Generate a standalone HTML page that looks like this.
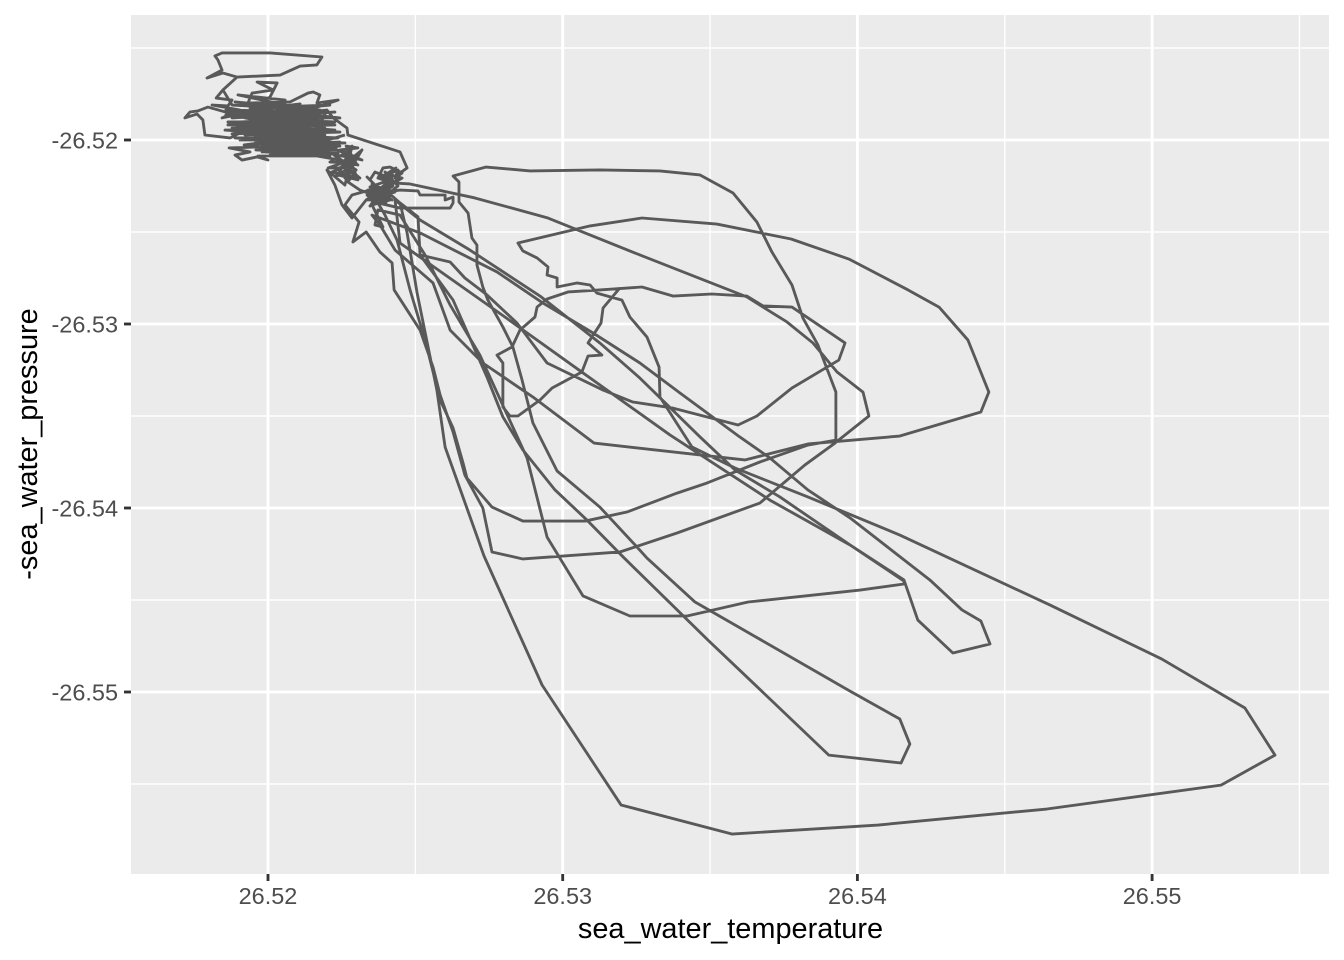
<!DOCTYPE html>
<html lang="en">
<head>
<meta charset="utf-8">
<title>sea_water_temperature vs -sea_water_pressure</title>
<style>
html,body{margin:0;padding:0;background:#fff;}
svg{display:block;font-family:"Liberation Sans",Arial,sans-serif;}
</style>
</head>
<body>
<svg id="chart" xmlns="http://www.w3.org/2000/svg" width="1344" height="960" viewBox="0 0 1344 960">
  <rect x="0" y="0" width="1344" height="960" fill="#ffffff"/>
  <rect x="131" y="15" width="1198" height="859" fill="#EBEBEB"/>
  <g id="grid-minor"></g>
  <g id="grid-major"></g>
  <path id="trace" fill="none" stroke="#595959" stroke-width="2.85" stroke-linejoin="round" stroke-linecap="butt"/>
  <g id="x-axis"></g>
  <g id="y-axis"></g>
  <text x="730.5" y="938" text-anchor="middle" font-size="28.9" fill="#000">sea_water_temperature</text>
  <text transform="translate(37,444) rotate(-90)" text-anchor="middle" font-size="28.9" fill="#000">-sea_water_pressure</text>
</svg>
<script>
const xTickValues = [26.52, 26.53, 26.54, 26.55];
const xTickLabels = ["26.52", "26.53", "26.54", "26.55"];
const xMinorValues = [26.525, 26.535, 26.545, 26.555];
const yTickValues = [-26.52, -26.53, -26.54, -26.55];
const yTickLabels = ["-26.52", "-26.53", "-26.54", "-26.55"];
const yMinorValues = [-26.515, -26.525, -26.535, -26.545, -26.555];

const temperature = [
26.53194,26.53137,26.5313,26.53086,26.53133,26.53086,26.53065,26.52964,26.52923,26.52848,26.52821,26.52797,26.52797,26.52777,26.52828,26.52855,26.52906,26.52913,26.52947,26.53018,26.53126,26.53269,26.53374,26.53506,26.53625,26.5368,26.53778,26.53958,26.53937,26.53778,26.53659,26.53595,26.53374,26.53238,26.53137,26.52947,26.52845,26.52743,26.52668,26.52618,26.52516,26.52509,26.52448,
26.52421,26.52346,26.52414,26.52339,26.52431,26.52353,26.52397,26.52336,26.52424,26.52373,26.5239,26.52414,26.52455,26.52431,26.52441,26.52397,26.52363,26.52346,26.52336,26.5238,26.52353,26.52407,26.52366,26.52312,
26.52271,26.52295,26.52227,26.52278,26.52204,26.52261,26.52305,26.52251,26.52319,26.52244,26.52305,26.52265,26.52285,
26.52234,26.51973,26.52227,26.5199,26.5221,26.51966,26.52,26.51963,26.51912,26.51888,26.51939,26.51868,26.51966,26.52041,26.5198,26.52244,26.52007,26.52261,26.51956,26.52143,
26.51919,26.52159,26.51905,26.51871,26.51786,26.51779,26.51759,26.51718,26.51735,26.51762,26.51796,26.51905,26.52109,26.51922,26.52227,26.51905,26.52176,26.51864,26.52143,26.51888,26.51956,26.522,26.52109,26.52238,26.52166,26.52176,26.52153,26.52136,26.52075,26.51932,26.51946,26.52017,26.51963,26.52031,26.52007,26.51939,26.52109,26.51915,26.52007,26.51844,26.51905,26.5181,26.51864,26.51878,26.51824,26.51847,26.51895,26.51847,26.51793,26.51844,26.5183,26.5182,26.51844,26.52007,26.52183,26.52166,26.52109,26.52041,26.51895,26.51847,
26.51878,26.52176,26.51857,26.52193,26.51905,26.52227,26.51878,26.5221,26.51922,26.52244,26.51939,26.52109,26.51905,26.52176,26.51956,26.52143,26.51973,26.52193,26.5199,26.52143,26.522,26.52221,26.52268,26.52271,26.52448,26.52472,26.52448,26.52431,
26.52482,26.52702,26.5295,26.53262,26.53625,26.53761,26.53849,26.53931,26.54019,26.54039,26.53924,26.53822,26.53669,26.53388,26.53194,26.52865,26.5276,26.52729,26.52668,26.52628,26.52584,26.5256,26.52516,26.52428,26.52421,26.5238,26.52333,26.52288,26.52309,26.52261,26.52285,
26.52346,26.52397,26.52448,26.52509,26.52516,26.52601,26.52601,26.52628,26.52628,26.52618,26.52448,26.52373,26.52397,26.52438,26.52482,26.52533,26.52584,
26.52628,26.52662,26.52675,26.5276,26.52865,26.53076,26.53218,26.53388,26.5349,26.53669,26.53832,26.53927,26.53927,26.53866,26.53815,26.53778,26.5371,26.53659,26.53578,26.53466,26.5333,26.53126,26.52889,26.5274,26.52628,26.52648,26.52648,26.52679,26.52692,26.52709,26.52709,26.52729,26.52746,26.52797,26.52831,26.52862,26.52899,26.52981,26.53126,26.53252,26.53286,26.53449,26.53975,26.54144,26.54178,26.54148,26.53903,26.53618,26.53493,26.53205,26.53082,26.52974,26.52865,26.52797,26.52743,26.52628,26.52516,26.52509,26.52448,
26.52472,26.52506,26.5255,26.52573,26.52601,26.52733,26.5293,26.53198,26.53574,26.5407,26.54643,26.55234,26.55417,26.55315,26.55033,26.54653,26.54144,26.53832,26.53585,26.53439,26.5333,26.53327,26.53286,26.53228,26.53201,26.53116,26.53093,26.53048,26.52981,26.52981,26.52947,26.5295,26.52913,26.52865,26.52848,26.53093,26.53269,26.53523,26.53775,26.53971,26.54172,26.54277,26.54375,26.54446,26.54419,26.54144,26.53832,26.53618,26.53106,26.52899,26.52729,26.52618,26.5256,26.52431,26.5238,26.52353,
26.52516,26.52777,26.52933,26.53103,26.53262,26.53398,26.53601,26.53703,26.53832,26.53975,26.54246,26.54355,26.54419,26.5445,26.54324,26.54205,26.54158,26.53975,26.53737,26.53585,26.53466,26.53262,26.53126,26.52923,26.52685,26.52516,26.52431,
26.52448,26.52804,26.53069,26.53364,26.53703,26.53975,26.54158,26.54158,26.54009,26.53629,26.53422,26.53228,26.53069,26.52947,26.52879,26.52804,26.52719,26.52618,26.52533,26.52448,26.52373,26.52363,26.5239,26.52353,26.52414,
26.52346,26.52424,26.52339,26.52421,26.52353,26.524,26.52339,26.52428,26.52363,26.52414,26.52346,26.52407,26.5238,26.52441,
26.52397,26.52421,26.5238,26.52434,26.52407,26.52455,
26.52333,26.52285,26.52251,26.52227,26.522,26.52261,26.52278,26.52217,26.52312,26.52238,26.52299,26.52224,26.52305,26.52244,26.52319,26.52261,26.52285,26.52238,26.52305,26.52268,26.5221,26.52299,
26.5198,26.52231,26.51959,26.52238,26.52007,26.5221,26.5198,26.52193,26.51888,26.5221,26.51854,26.52227,26.51864,26.52204,26.51878,26.52176,26.51857,26.52159,26.51888,26.52109,26.51898,26.52058,26.51878,26.52227,26.51939,26.52244,26.51939,26.5221,26.51973,26.52193,26.52024,26.52238,26.52,26.52244,26.52109,26.52261
];

const pressure = [
26.52804,26.52913,26.52995,26.53103,26.53169,26.53174,26.53261,26.53348,26.53413,26.535,26.535,26.53451,26.53212,26.53169,26.53125,26.53033,26.52962,26.52908,26.52864,26.52826,26.52815,26.52799,26.52848,26.52837,26.52848,26.52902,26.52908,26.53103,26.53196,26.53348,26.535,26.53549,26.53457,26.53424,26.53359,26.53212,26.52995,26.52842,26.5275,26.52663,26.52625,26.52418,26.52342,
26.52304,26.52255,26.52217,26.52326,26.52283,26.52245,26.52326,26.52299,26.52234,26.52207,26.52152,26.52147,26.52179,26.52207,26.52163,26.52196,26.52174,26.52217,26.52201,26.52272,26.52342,26.52261,26.52304,26.52272,
26.52228,26.52174,26.52196,26.52152,26.52152,26.5212,26.52136,26.52082,26.52109,26.52054,26.52043,26.52033,26.52087,
26.52054,26.52043,26.52076,26.52065,26.52087,26.52087,26.52109,26.52092,26.52109,26.52082,26.52065,26.52043,26.52038,26.52038,26.52065,26.52033,26.52033,26.52016,26.52016,26.52005,
26.52027,26.51978,26.51962,26.51989,26.51973,26.51891,26.51859,26.5188,26.51848,26.51842,26.51821,26.5187,26.51929,26.5188,26.51902,26.51957,26.51918,26.51918,26.5188,26.51935,26.51918,26.51837,26.51853,26.51783,26.51799,26.51755,26.51739,26.51745,26.51793,26.51799,26.51745,26.51728,26.51685,26.5169,26.51766,26.51837,26.51804,26.51848,26.51826,26.5188,26.51837,26.5181,26.51815,26.51783,26.51772,26.51728,26.51658,26.51636,26.51663,26.5162,26.51565,26.51543,26.51527,26.51527,26.51549,26.51592,26.51598,26.51647,26.51658,26.51728,
26.5181,26.51837,26.51864,26.5188,26.51902,26.51918,26.51935,26.51946,26.51973,26.51957,26.51935,26.51973,26.52,26.52,26.51978,26.51935,26.51891,26.51973,26.51946,26.52033,26.51837,26.5188,26.51935,26.51973,26.52065,26.52152,26.52179,26.52234,
26.52239,26.52315,26.52424,26.52625,26.52853,26.52989,26.53103,26.53261,26.5337,26.535,26.53647,26.53766,26.53973,26.54136,26.54239,26.54277,26.54239,26.54,26.53821,26.53587,26.53386,26.53234,26.53033,26.52815,26.52668,26.52609,26.525,26.52554,26.52446,26.52353,26.52299,
26.52272,26.52283,26.52272,26.52277,26.52299,26.52299,26.52326,26.5231,26.52342,26.5237,26.5237,26.52342,26.52408,26.52544,26.52815,26.53087,26.53413,
26.53565,26.53756,26.53837,26.53995,26.54071,26.54071,26.54022,26.53919,26.53864,26.5375,26.53658,26.53631,26.5337,26.53114,26.52967,26.52788,26.52609,26.52446,26.52288,26.5219,26.52168,26.52163,26.52168,26.52147,26.52196,26.52228,26.52337,26.52397,26.52533,26.52571,26.52679,26.52799,26.5287,26.53016,26.53125,26.53304,26.53538,26.53799,26.53995,26.54212,26.54272,26.54511,26.54995,26.55147,26.55283,26.55386,26.55343,26.54908,26.54718,26.54266,26.54065,26.53902,26.53685,26.53505,26.53288,26.5287,26.52625,26.52418,26.52342,
26.52505,26.52832,26.53179,26.53359,26.53669,26.54261,26.54962,26.55614,26.55772,26.55723,26.55636,26.55506,26.55343,26.55087,26.54821,26.54527,26.54147,26.5394,26.53783,26.53669,26.53397,26.53234,26.53071,26.52962,26.5287,26.52832,26.52788,26.52777,26.52799,26.5275,26.52734,26.5269,26.52641,26.52603,26.5256,26.52467,26.52424,26.52457,26.52538,26.52647,26.52815,26.52908,26.53087,26.5337,26.53478,26.53609,26.53652,26.53739,26.53647,26.53397,26.53212,26.53033,26.52777,26.52598,26.52462,26.52408,
26.52505,26.52717,26.52886,26.53049,26.53212,26.53375,26.53614,26.53728,26.53902,26.54054,26.54391,26.54554,26.54614,26.54739,26.54788,26.54609,26.54391,26.54201,26.5394,26.53794,26.53614,26.53294,26.53103,26.52848,26.52598,26.52435,26.52326,
26.5256,26.52962,26.53266,26.53603,26.53957,26.54201,26.54397,26.54413,26.54446,26.54511,26.54587,26.54587,26.54478,26.54158,26.53728,26.53467,26.53169,26.52897,26.52625,26.52408,26.5238,26.52462,26.52473,26.52353,26.52326,
26.52326,26.5225,26.52272,26.52326,26.52239,26.52342,26.52304,26.52283,26.52261,26.52293,26.52359,26.52228,26.52326,26.5225,
26.52174,26.52207,26.52207,26.52152,26.52185,26.52207,
26.52326,26.52424,26.52353,26.52245,26.52163,26.52245,26.52136,26.52174,26.52207,26.52109,26.52163,26.52082,26.52098,26.52152,26.52054,26.52207,26.52033,26.5219,26.52217,26.52065,26.5212,26.52125,
26.52033,26.52043,26.52054,26.52071,26.52082,26.52054,26.52011,26.52022,26.51989,26.51989,26.51946,26.51946,26.51902,26.51902,26.51967,26.51946,26.51837,26.51848,26.51793,26.51826,26.51755,26.51783,26.5188,26.51848,26.5187,26.5188,26.51826,26.5181,26.51848,26.51935,26.51973,26.51989,26.52022,26.52011,26.52043,26.51973
];

const SVG_NS = "http://www.w3.org/2000/svg";
const xDomain = [26.515351, 26.556003];
const xRange = [131, 1329];
const yDomain = [-26.559837, -26.513207];
const yRange = [873, 15];

function xScale(v) {
  return xRange[0] + (v - xDomain[0]) / (xDomain[1] - xDomain[0]) * (xRange[1] - xRange[0]);
}
function yScale(v) {
  return yRange[0] + (v - yDomain[0]) / (yDomain[1] - yDomain[0]) * (yRange[1] - yRange[0]);
}
function makeLine(x1, y1, x2, y2, stroke, width) {
  const el = document.createElementNS(SVG_NS, "line");
  el.setAttribute("x1", x1);
  el.setAttribute("y1", y1);
  el.setAttribute("x2", x2);
  el.setAttribute("y2", y2);
  el.setAttribute("stroke", stroke);
  el.setAttribute("stroke-width", width);
  return el;
}
function makeLabel(x, y, anchor, content) {
  const el = document.createElementNS(SVG_NS, "text");
  el.setAttribute("x", x);
  el.setAttribute("y", y);
  el.setAttribute("text-anchor", anchor);
  el.setAttribute("font-size", "23.47");
  el.setAttribute("fill", "#4D4D4D");
  el.textContent = content;
  return el;
}

const gridMinor = document.getElementById("grid-minor");
const gridMajor = document.getElementById("grid-major");
const xAxis = document.getElementById("x-axis");
const yAxis = document.getElementById("y-axis");

xMinorValues.forEach(function (v) {
  const line = makeLine(xScale(v), yRange[1], xScale(v), yRange[0] + 1, "#ffffff", 1.4);
  
  
  gridMinor.appendChild(line);
});
yMinorValues.forEach(function (v) {
  const line = makeLine(xRange[0], yScale(v), xRange[1], yScale(v), "#ffffff", 1.4);
  
  
  gridMinor.appendChild(line);
});
xTickValues.forEach(function (v, i) {
  const grid = makeLine(xScale(v), yRange[1], xScale(v), yRange[0] + 1, "#ffffff", 2.85);
  
  
  gridMajor.appendChild(grid);
  const tick = makeLine(xScale(v), yRange[0] + 1, xScale(v), yRange[0] + 8, "#333333", 2.85);
  
  
  xAxis.appendChild(tick);
  const label = makeLabel(xScale(v), 904, "middle", xTickLabels[i]);
  
  
  xAxis.appendChild(label);
});
yTickValues.forEach(function (v, i) {
  const grid = makeLine(xRange[0], yScale(v), xRange[1], yScale(v), "#ffffff", 2.85);
  
  
  gridMajor.appendChild(grid);
  const tick = makeLine(xRange[0] - 7, yScale(v), xRange[0], yScale(v), "#333333", 2.85);
  
  
  yAxis.appendChild(tick);
  const label = makeLabel(xRange[0] - 13, yScale(v) + 8.5, "end", yTickLabels[i]);
  
  
  yAxis.appendChild(label);
});

const count = Math.min(temperature.length, pressure.length);
let pathData = "";
for (let i = 0; i < count; i++) {
  pathData += (i === 0 ? "M" : "L") + xScale(temperature[i]).toFixed(2) + " " + yScale(-pressure[i]).toFixed(2);
}
document.getElementById("trace").setAttribute("d", pathData);
</script>
</body>
</html>
